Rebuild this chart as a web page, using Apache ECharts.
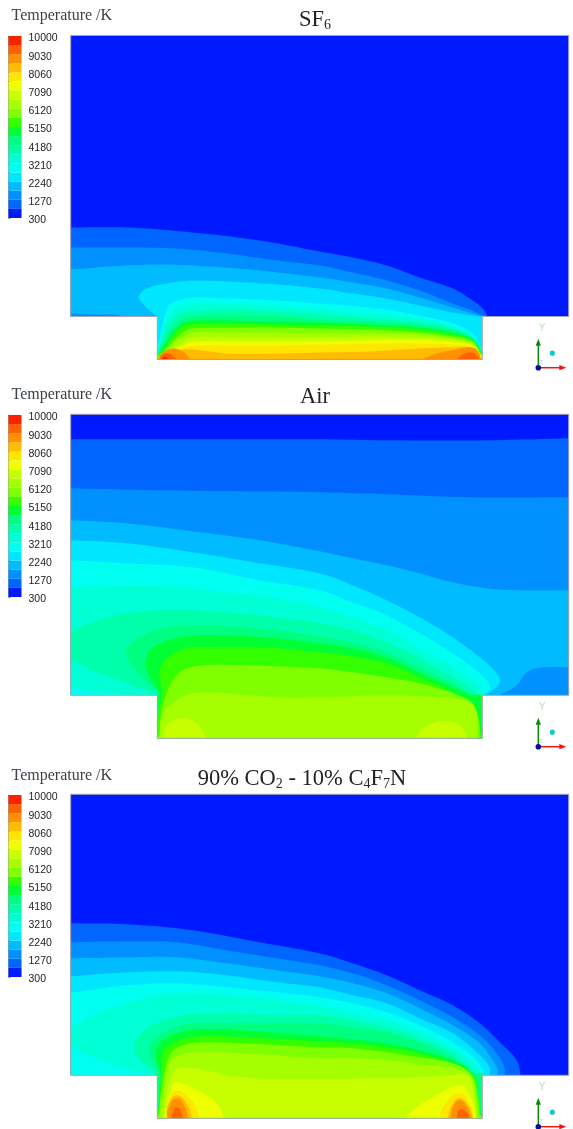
<!DOCTYPE html>
<html>
<head>
<meta charset="utf-8">
<style>html,body{margin:0;padding:0;background:#fff}#c{width:573px;height:1129px}</style>
<script src="https://cdn.jsdelivr.net/npm/echarts@6/dist/echarts.min.js"></script>
</head>
<body>
<div id="c"></div>
<script>
// Legend
const tickLabels = [300, 1270, 2240, 3210, 4180, 5150, 6120, 7090, 8060, 9030, 10000];
const levelEdges = [300,785,1270,1755,2240,2725,3210,3695,4180,4665,5150,5635,6120,6605,7090,7575,8060,8545,9030,9515,10000];
const levelColors = ['#001aff','#0066ff','#0090ff','#00bbff','#00e6ff','#00fff0','#00ffd5','#00ffaa','#00ff80','#00ff33',
                     '#33ff00','#80ff00','#a5ff00','#c8ff00','#eeff00','#ffe600','#ffbb00','#ff9000','#ff6000','#ff2000'];

// Domain outline (x, height above the cavity floor), same units in all three panels
const domainOutline = [[0,324],[498,324],[498,43],[411.6,43],[411.6,0],[86.6,0],[86.6,43],[0,43],[0,324]];
const domainBox = [[0,0],[498,0],[498,324],[0,324]];
const leftNotch = [[-1,-1],[86.6,-1],[86.6,43],[-1,43]];
const rightNotch = [[411.6,-1],[499,-1],[499,43],[411.6,43]];

// Contour bands, painted in order: [level index, boundary points]
const sf6Bands = [
 [1,[[0,132],[56,132],[122,127],[189,119],[249,108],[282,102],[316,94],[349,82],[382,71],[399,61],[412,51],[417,43]]],
 [2,[[0,112],[56,112],[106,111],[156,106],[206,99],[249,94],[282,87],[316,79],[349,69],[382,56],[406,47],[411,43]]],
 [3,[[0,90],[39,93],[89,95],[139,93],[189,89],[249,82],[282,77],[316,71],[349,62],[382,52],[409,44]]],
 [2,[[0,46],[22,45],[52,43],[60,30]]],
 [4,[[86,43],[79,49],[71,57],[68,63],[76,71],[96,76],[122,79],[156,78],[206,75],[249,71],[282,66],[316,61],[349,54],[382,47],[409,43]]],
 [5,[[86,9],[92,36],[97,52],[102,57],[122,62],[156,61],[206,59],[249,56],[299,52],[349,44],[382,36],[402,26],[410,12]]],
 [6,[[87,7],[93,30],[99,44],[106,51],[122,55],[156,56],[206,53],[249,50],[299,46],[349,41],[382,33],[402,24],[410,11]]],
 [7,[[87,6],[93,24],[100,37],[108,45],[122,48],[156,50],[206,48],[249,45],[299,41],[349,37],[382,31],[402,22],[410,10]]],
 [8,[[87,5],[94,19],[102,32],[112,40],[122,43],[156,44],[206,43],[249,40],[299,38],[349,35],[382,29],[402,21],[410,9]]],
 [9,[[87,4],[94,15],[103,28],[112,36],[122,39],[156,39],[206,38],[249,37],[299,35],[349,32],[382,27],[402,20],[410,8]]],
 [10,[[87,4],[95,13],[104,26],[112,33],[122,36],[156,36],[206,35],[249,34],[299,33],[349,30],[382,25],[402,19],[410,7]]],
 [11,[[88,3],[96,11],[106,22],[114,28],[122,31],[156,32],[206,32],[249,31],[299,30],[349,27],[382,23],[402,18],[410,6]]],
 [12,[[88,3],[97,10],[107,19],[116,24],[122,27],[156,27],[206,27],[249,26],[299,26],[349,25],[382,21],[402,16],[410,5]]],
 [13,[[88,2],[98,9],[110,16],[122,22],[156,22],[206,22],[249,22],[299,23],[349,22],[382,20],[402,15],[410,4]]],
 [14,[[88,2],[99,8],[110,13],[122,18],[156,18],[206,18],[249,18],[299,19],[349,20],[382,17],[402,14],[410,3]]],
 [15,[[89,1],[99,7],[110,11],[122,14],[156,14],[206,14],[249,15],[299,16],[349,16],[382,15],[402,12],[410,2]]],
 [16,[[89,0],[100,7],[112,10],[122,10],[140,8],[156,6],[206,6],[249,7],[299,8],[349,11],[382,12],[402,11],[410,1]]],
 [17,[[87,0],[92,7],[102,11],[112,8],[120,0]]],
 [18,[[89,0],[92,5],[99,6],[106,0]]],
 [19,[[91,0],[94,3],[97,0]]],
 [17,[[351,0],[366,6],[386,10],[402,12],[408,7],[410,0]]],
 [18,[[386,0],[392,5],[402,7],[407,3],[408,0]]]
];
const airBands = [
 [1,[[0,299],[122,299],[249,299],[316,298],[416,298],[498,300]]],
 [2,[[0,250],[89,248],[249,246],[316,244],[399,241],[498,241]]],
 [3,[[0,218],[56,215],[122,207],[189,198],[249,187],[282,180],[316,173],[341,167],[382,156],[416,150],[449,148],[498,148]]],
 [2,[[429,43],[446,53],[456,66],[472,71],[498,71]]],
 [4,[[0,198],[56,195],[122,186],[189,175],[249,165],[282,153],[316,138],[349,121],[382,101],[409,81],[426,65],[429,56],[422,48],[414,43]]],
 [5,[[0,178],[56,175],[122,171],[189,158],[249,148],[282,136],[316,123],[349,105],[382,85],[409,65],[419,51],[412,43]]],
 [6,[[0,151],[39,152],[89,152],[156,146],[206,140],[249,131],[282,121],[316,108],[349,90],[382,71],[406,55],[412,43]]],
 [5,[[0,51],[30,46],[56,43],[60,30]]],
 [7,[[88,43],[56,55],[22,68],[0,80],[-15,92],[0,105],[22,116],[56,125],[106,128],[156,126],[206,121],[249,115],[282,108],[316,96],[349,80],[382,61],[406,46],[409,43]]],
 [8,[[89,43],[86,48],[72,60],[61,73],[55,85],[61,95],[79,106],[106,112],[156,112],[206,108],[249,102],[282,96],[316,86],[349,71],[382,55],[399,44]]],
 [9,[[90,43],[87,48],[79,61],[75,75],[79,88],[92,96],[116,102],[156,103],[206,100],[249,95],[282,90],[316,81],[349,66],[382,51],[401,43]]],
 [10,[[87,0],[88,25],[91,45],[89,61],[89,68],[96,80],[116,90],[156,91],[206,90],[249,86],[282,82],[316,75],[349,61],[382,46],[405,28],[410,5]]],
 [11,[[88,1],[91,28],[96,45],[102,58],[112,68],[132,73],[172,73],[249,70],[282,66],[316,61],[349,55],[382,45],[402,35],[408,18],[409,0]]],
 [12,[[89,1],[92,25],[106,38],[122,45],[156,45],[206,41],[249,41],[282,42],[316,43],[349,42],[382,40],[399,35],[406,25],[406,0]]],
 [13,[[92,0],[96,13],[111,20],[126,15],[136,0]]],
 [13,[[345,0],[352,10],[372,17],[389,13],[396,0]]]
];
const co2Bands = [
 [1,[[0,195],[56,194],[122,188],[189,176],[249,165],[282,155],[316,143],[349,128],[382,113],[409,95],[429,76],[446,58],[450,43]]],
 [2,[[0,176],[56,177],[106,176],[156,168],[206,160],[249,153],[282,145],[316,133],[349,118],[382,101],[409,83],[426,65],[434,50],[434,43]]],
 [3,[[0,160],[56,161],[106,161],[156,155],[206,148],[249,142],[282,135],[316,125],[349,110],[382,93],[409,75],[422,58],[427,48],[426,43]]],
 [4,[[0,142],[39,145],[106,147],[156,143],[206,136],[249,131],[282,123],[316,115],[349,100],[382,85],[406,66],[419,51],[419,43]]],
 [5,[[0,126],[56,133],[106,135],[156,131],[206,126],[249,121],[282,115],[316,106],[349,93],[382,76],[406,58],[414,45]]],
 [6,[[86,43],[56,50],[22,61],[0,73],[-15,81],[0,90],[22,103],[56,115],[89,123],[106,125],[156,123],[206,118],[249,112],[282,105],[316,98],[349,86],[382,70],[406,53],[409,43]]],
 [7,[[87,43],[82,48],[67,61],[64,73],[72,86],[89,96],[122,104],[172,104],[206,103],[249,103],[282,98],[316,91],[349,80],[382,65],[402,48],[405,43]]],
 [8,[[88,45],[81,58],[78,68],[84,80],[99,89],[122,95],[172,95],[249,95],[282,91],[316,86],[349,76],[382,61],[401,45]]],
 [9,[[87,2],[90,40],[89,48],[85,61],[89,75],[106,85],[129,89],[172,88],[249,82],[282,79],[316,75],[349,68],[382,58],[401,45],[409,2]]],
 [10,[[87,2],[89,21],[91,55],[93,68],[106,77],[129,82],[172,81],[249,77],[282,75],[316,71],[349,65],[382,55],[403,43],[408,21],[410,1]]],
 [11,[[88,2],[89,15],[92,35],[95,51],[101,66],[112,73],[132,76],[172,75],[249,71],[282,70],[316,66],[349,61],[382,55],[399,45],[406,28],[409,2]]],
 [12,[[88,1],[90,8],[94,31],[97,48],[101,59],[122,66],[172,65],[249,60],[282,60],[316,58],[349,54],[382,50],[399,43],[404,28],[407,1]]],
 [13,[[92,0],[97,28],[102,45],[107,50],[122,50],[172,41],[249,39],[299,40],[349,41],[382,43],[396,43],[401,35],[406,0]]],
 [14,[[94,0],[96,11],[102,33],[107,36],[122,30],[139,21],[149,11],[153,0]]],
 [14,[[335,0],[346,11],[366,23],[389,33],[399,23],[406,0]]],
 [15,[[95,0],[99,20],[106,28],[121,18],[127,6],[129,0]]],
 [15,[[369,0],[372,11],[389,25],[401,11],[403,0]]],
 [16,[[96,0],[97,13],[106,23],[117,13],[121,0]]],
 [16,[[377,0],[381,13],[389,20],[399,11],[402,0]]],
 [17,[[97,0],[97,8],[106,20],[115,10],[117,0]]],
 [17,[[380,0],[382,11],[389,18],[397,10],[401,0]]],
 [18,[[101,0],[102,5],[106,11],[111,5],[112,0]]],
 [18,[[386,0],[389,9],[396,6],[399,0]]]
];

const panels = [
  {title:'{t|SF}{s|6}', titleX:315, titleTop:9, labelTop:8, top:35.5, barTop:36, bands:sf6Bands},
  {title:'{t|Air}', titleX:315, titleTop:386, labelTop:386.5, top:414.3, barTop:415, bands:airBands},
  {title:'{t|90% CO}{s|2}{t| - 10% C}{s|4}{t|F}{s|7}{t|N}', titleX:302, titleTop:768, labelTop:768, top:794.3, barTop:795, bands:co2Bands}
];

// smooth the read-off boundary for drawing only, close it below the floor, keep it inside the box
function outline(pts, api){
  const p = pts.slice();
  if (p[0][0] <= 0) p.unshift([-25, p[0][1]]);
  if (p[p.length-1][0] >= 498) p.push([525, p[p.length-1][1]]);
  const c = p.map(q=>api.coord(q));
  const tan = c.map((q,i)=>{
    const a=c[Math.max(i-1,0)], b=c[Math.min(i+1,c.length-1)];
    const dx=b[0]-a[0], dy=b[1]-a[1], n=Math.hypot(dx,dy)||1;
    return [dx/n,dy/n];
  });
  const out=[c[0]];
  for(let i=0;i<c.length-1;i++){
    const A=c[i],B=c[i+1],L=Math.hypot(B[0]-A[0],B[1]-A[1])*0.36;
    const c1=[A[0]+tan[i][0]*L,A[1]+tan[i][1]*L], c2=[B[0]-tan[i+1][0]*L,B[1]-tan[i+1][1]*L];
    for(let k=1;k<=10;k++){
      const t=k/10,u=1-t;
      out.push([u*u*u*A[0]+3*u*u*t*c1[0]+3*u*t*t*c2[0]+t*t*t*B[0],
                u*u*u*A[1]+3*u*u*t*c1[1]+3*u*t*t*c2[1]+t*t*t*B[1]]);
    }
  }
  const first=p[0], last=p[p.length-1];
  // bands that end on a cavity wall fill right up to that wall
  const xb = (last[1]>0 && last[0]>380 && last[0]<414) ? 414 : last[0];
  const xa = (first[1]>0 && first[0]>0 && first[0]<100) ? 84 : first[0];
  out.push(api.coord([xb,last[1]]),api.coord([xb,-30]),api.coord([xa,-30]),api.coord([xa,first[1]]));
  const lo=api.coord([0,324]), hi=api.coord([498,0]);
  return out.map(q=>[Math.min(Math.max(q[0],lo[0]),hi[0]),Math.min(Math.max(q[1],lo[1]),hi[1])]);
}
const rich = {
  t:{fontFamily:'Liberation Serif',fontWeight:'normal',fontSize:22.5,color:'#222'},
  s:{fontFamily:'Liberation Serif',fontWeight:'normal',fontSize:14,color:'#222',verticalAlign:'bottom',padding:[8,0,0,0]}
};
const grid=[],xAxis=[],yAxis=[],series=[],title=[],graphic=[];
panels.forEach((P,i)=>{
  grid[i]={left:70.7,top:P.top,width:498,height:324};
  xAxis[i]={type:'value',gridIndex:i,min:0,max:498,show:false};
  yAxis[i]={type:'value',gridIndex:i,min:0,max:324,show:false};
  title.push({text:P.title,left:P.titleX,top:P.titleTop,padding:0,textAlign:'center',textStyle:{rich}});
  title.push({text:'Temperature /K',left:11.5,top:P.labelTop,padding:0,textStyle:{fontFamily:'Liberation Serif',fontWeight:'normal',fontSize:16,color:'#3c4248'}});
  series.push({
    type:'custom',coordinateSystem:'cartesian2d',xAxisIndex:i,yAxisIndex:i,clip:false,silent:true,animation:false,
    data:[[-1]].concat(P.bands.map((b,k)=>[k])),
    renderItem(params,api){
      const k=api.value(0);
      if(k<0){
        return {type:'polygon',shape:{points:domainBox.map(c=>api.coord(c))},style:{fill:levelColors[0]}};
      }
      const b=P.bands[k];
      return {type:'polygon',shape:{points:outline(b[1],api)},style:{fill:levelColors[b[0]]}};
    }
  });
  series.push({
    type:'custom',coordinateSystem:'cartesian2d',xAxisIndex:i,yAxisIndex:i,clip:false,silent:true,animation:false,
    data:[[0],[1],[2]],
    renderItem(params,api){
      const k=api.value(0);
      if(k<2){
        return {type:'polygon',shape:{points:(k?rightNotch:leftNotch).map(c=>api.coord(c))},style:{fill:'#fff'}};
      }
      return {type:'polyline',shape:{points:domainOutline.map(c=>api.coord(c))},style:{fill:null,stroke:'#a6a6b2',lineWidth:1}};
    }
  });
  // legend bar with its ticks
  const g=3+i;
  grid[g]={left:8.5,top:P.barTop,width:13,height:182};
  xAxis[g]={type:'value',gridIndex:g,min:0,max:1,show:false};
  yAxis[g]={type:'value',gridIndex:g,min:300,max:10000,position:'right',
    axisLine:{show:true,lineStyle:{color:'#a0a0a0',width:1}},
    axisTick:{show:true,length:2,inside:false,customValues:levelEdges,lineStyle:{color:'#888',width:1}},
    axisLabel:{show:false},splitLine:{show:false}};
  series.push({
    type:'custom',coordinateSystem:'cartesian2d',xAxisIndex:g,yAxisIndex:g,clip:false,silent:true,animation:false,
    data:levelColors.map((c,k)=>[k]),
    renderItem(params,api){
      const k=api.value(0);
      const a=api.coord([0,levelEdges[k]]), b=api.coord([1,levelEdges[k+1]]);
      return {type:'rect',shape:{x:a[0],y:b[1],width:b[0]-a[0],height:a[1]-b[1]},style:{fill:levelColors[k]}};
    }
  });
  // legend tick labels (their own axis: they sit just below the tick marks in the picture)
  const h=6+i;
  grid[h]={left:8.5,top:P.barTop+2.5,width:13,height:182};
  xAxis[h]={type:'value',gridIndex:h,min:0,max:1,show:false};
  yAxis[h]={type:'value',gridIndex:h,min:300,max:10000,position:'right',
    axisLine:{show:false},axisTick:{show:false},splitLine:{show:false},
    axisLabel:{show:true,customValues:tickLabels,margin:7,fontFamily:'Liberation Sans',fontSize:10.5,color:'#222',formatter:v=>String(v)}};
  // orientation triad
  const dy=[0,379,759][i];
  const ox=538.3, oy=367.7+dy;
  graphic.push(
    {type:'line',z:50,shape:{x1:ox,y1:oy,x2:ox,y2:oy-24},style:{stroke:'#0a8a0a',lineWidth:1.5}},
    {type:'polygon',z:50,shape:{points:[[ox,oy-29],[ox-2.6,oy-22],[ox+2.6,oy-22]]},style:{fill:'#0a8a0a'}},
    {type:'line',z:50,shape:{x1:ox,y1:oy,x2:ox+22,y2:oy},style:{stroke:'#f01414',lineWidth:1.5}},
    {type:'polygon',z:50,shape:{points:[[ox+28,oy],[ox+21,oy-2.6],[ox+21,oy+2.6]]},style:{fill:'#f01414'}},
    {type:'circle',z:50,shape:{cx:ox,cy:oy,r:2.8},style:{fill:'#0a0a9a'}},
    {type:'circle',z:50,shape:{cx:ox+14,cy:oy-14.5,r:2.6},style:{fill:'#12c8cc'}},
    {type:'text',z:50,x:ox+0.5,y:oy-44,style:{text:'Y',fontFamily:'Liberation Sans',fontSize:10,fill:'#b4e2b4'}},
    {type:'text',z:50,x:ox+1,y:oy-8,style:{text:'Z',fontFamily:'Liberation Sans',fontSize:6,fill:'#c4c4f4'}}
  );
});
const chart=echarts.init(document.getElementById('c'),null,{renderer:'canvas'});
chart.setOption({backgroundColor:'#fff',animation:false,title,grid,xAxis,yAxis,series,graphic:{elements:graphic}});
</script>
</body>
</html>
